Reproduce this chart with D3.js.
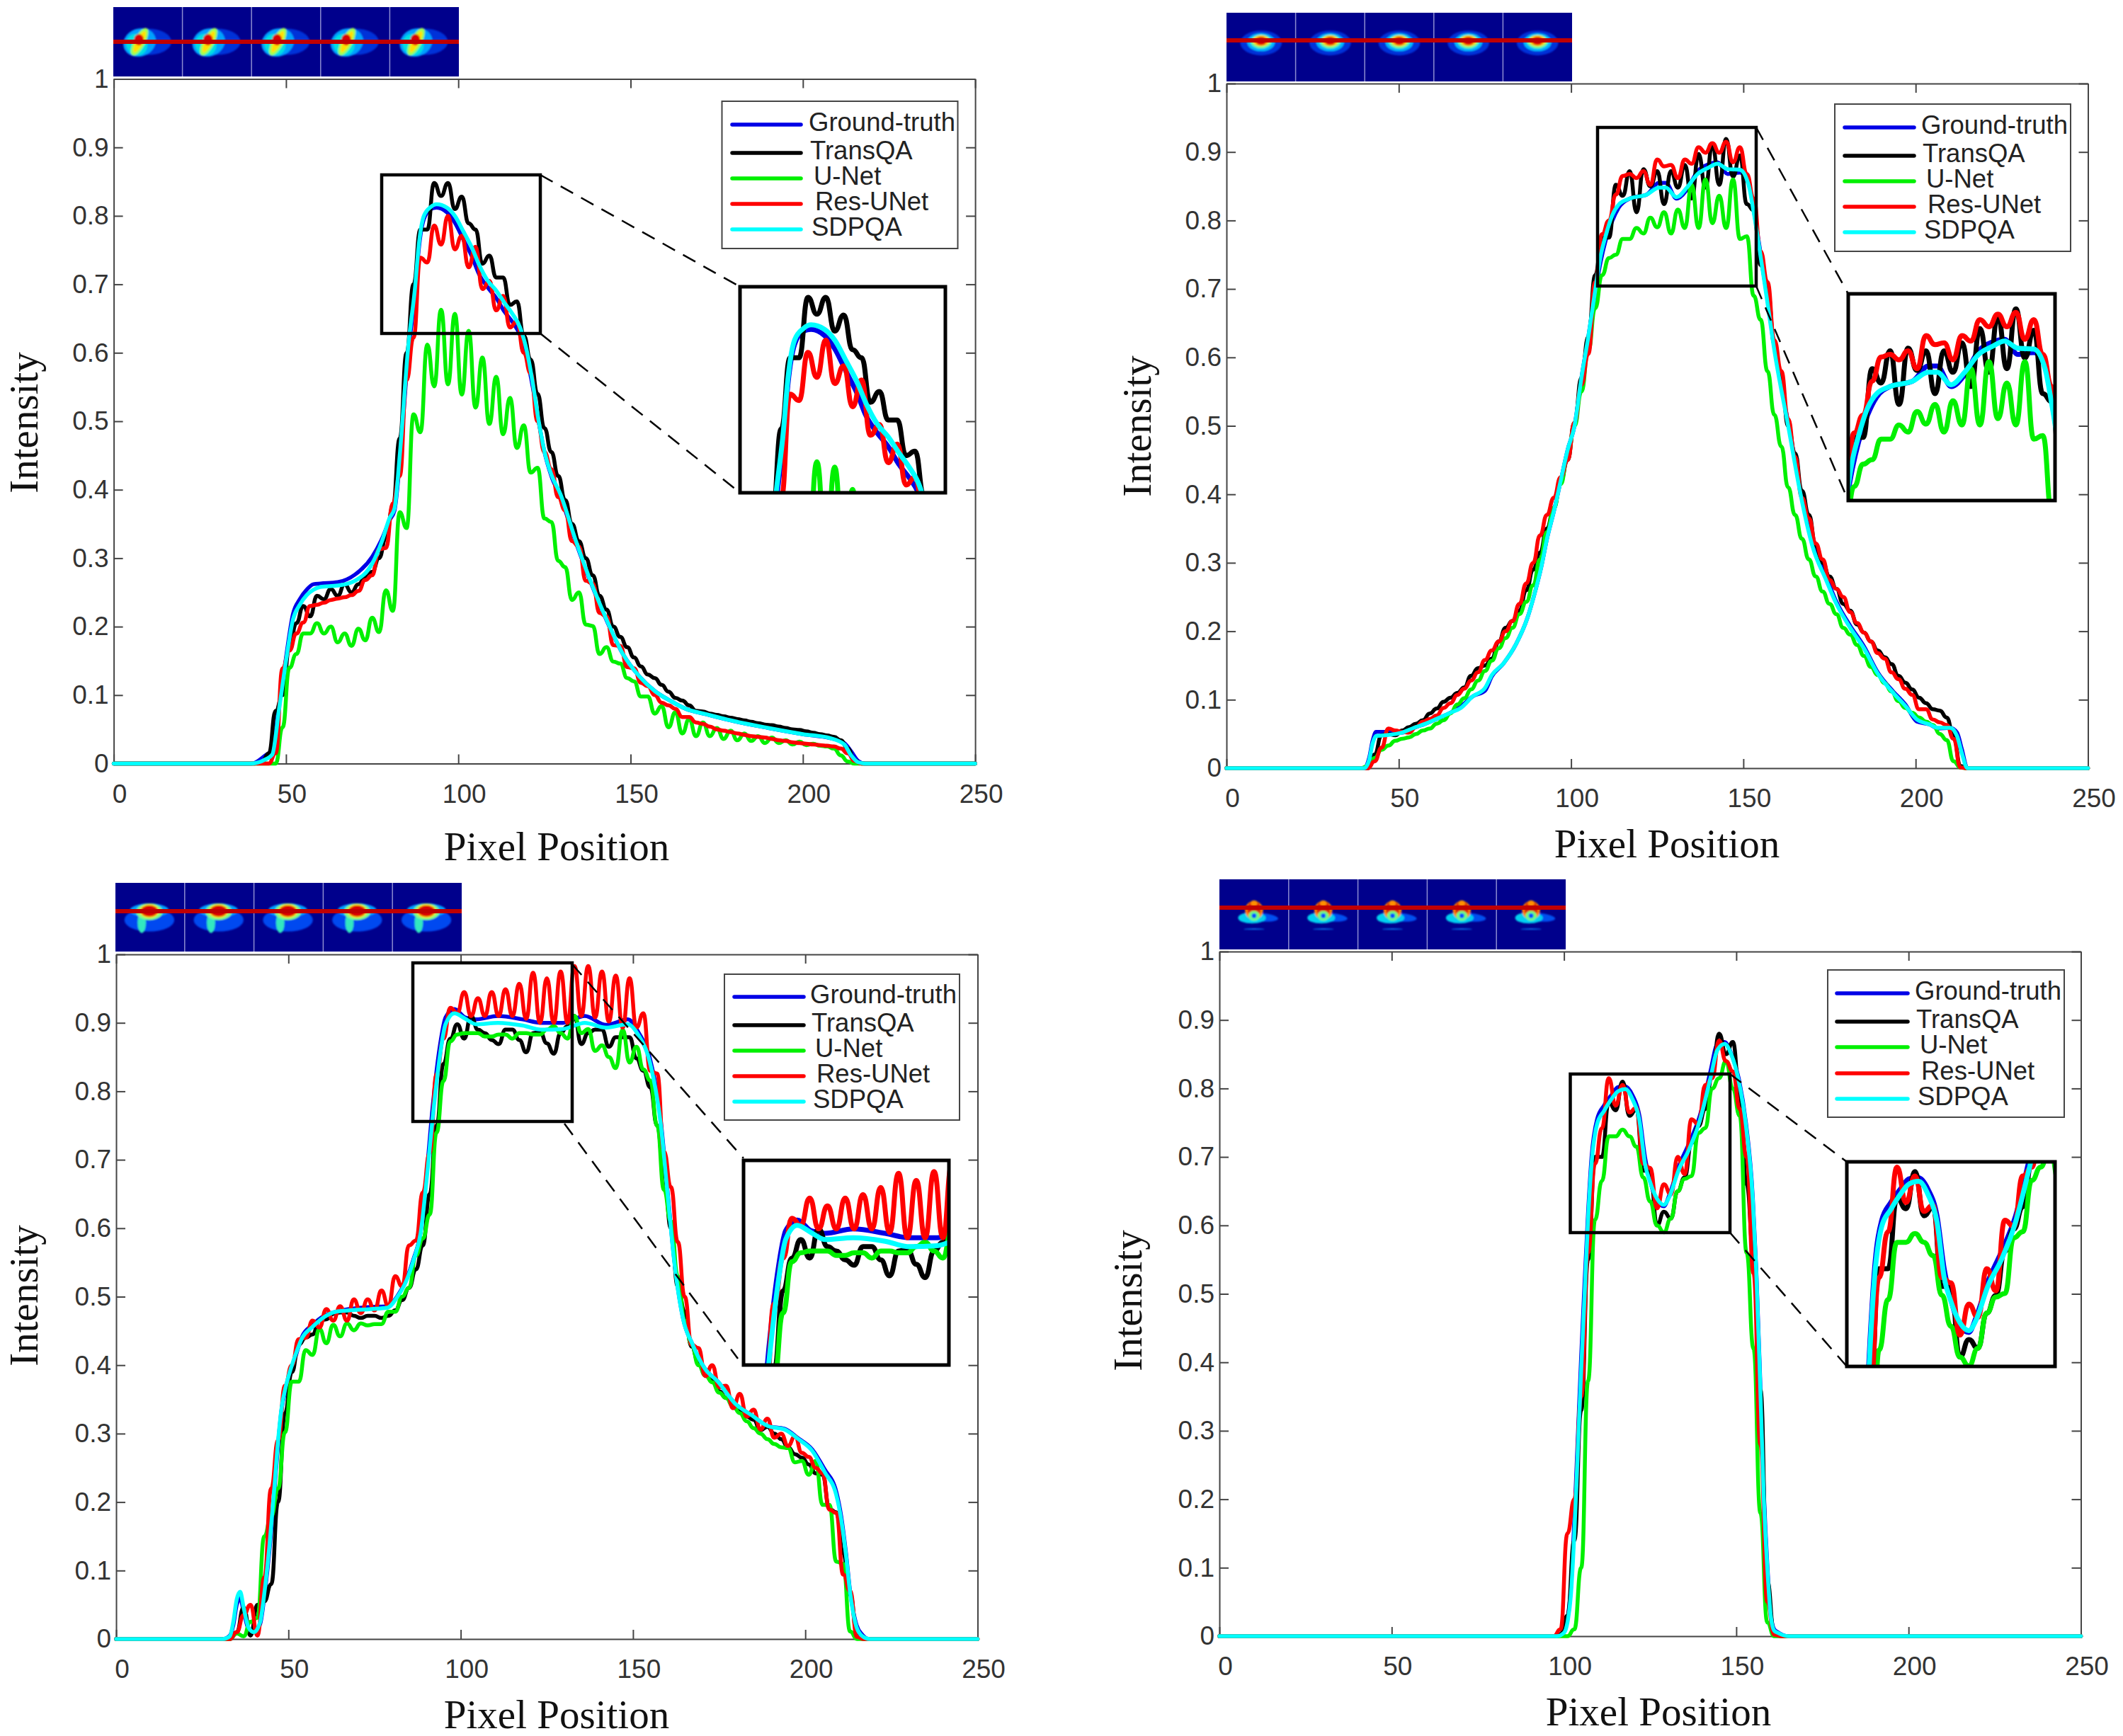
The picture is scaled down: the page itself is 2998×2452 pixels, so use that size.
<!DOCTYPE html>
<html><head><meta charset="utf-8">
<script src="https://cdn.jsdelivr.net/npm/d3@7/dist/d3.min.js"></script>
<style>html,body{margin:0;padding:0;background:#fff}svg{display:block}</style>
</head><body><svg id="c" width="2998" height="2452"></svg>
<script>
const seriesNames=["Ground-truth","TransQA","U-Net","Res-UNet","SDPQA"];
const seriesColors=["#0000e6","#000000","#00f000","#ff0000","#00ffff"];
const xTicks=[0,50,100,150,200,250];
const xTickLabels=["0","50","100","150","200","250"];
const yTicks=[0,.1,.2,.3,.4,.5,.6,.7,.8,.9,1];
const yTickLabels=["0","0.1","0.2","0.3","0.4","0.5","0.6","0.7","0.8","0.9","1"];

// ---------- Panel 1 ----------
const p1StepX=d3.range(41,220,2);
const p1TransQA=[0,.002,.015,.077,.1,.17,.205,.23,.215,.245,
.24,.255,.245,.262,.25,.262,.272,.28,.3,.33,
.375,.475,.6,.7,.78,.78,.848,.829,.848,.81,
.828,.789,.78,.73,.742,.71,.71,.67,.675,.625,
.59,.54,.49,.455,.42,.385,.35,.325,.3,.275,
.245,.225,.2,.185,.17,.155,.142,.13,.125,.115,
.105,.096,.092,.085,.077,.076,.073,.071,.069,.067,
.065,.063,.061,.059,.057,.056,.054,.052,.05,.049,
.047,.045,.043,.041,.039,.034,.022,.005,0,0];
const p1UNet=[0,0,0,0,.053,.14,.16,.19,.19,.205,
.19,.2,.177,.19,.172,.197,.18,.213,.192,.253,
.223,.367,.344,.51,.484,.612,.551,.663,.554,.657,
.539,.632,.52,.593,.496,.565,.481,.534,.461,.494,
.425,.432,.358,.353,.296,.287,.239,.25,.203,.201,
.16,.17,.149,.146,.125,.12,.098,.098,.073,.084,
.053,.075,.044,.065,.04,.06,.04,.052,.036,.048,
.034,.044,.033,.04,.03,.038,.03,.034,.028,.032,
.027,.029,.026,.025,.022,.012,.003,0,0,0];
const p1ResUNet=[0,0,0,.015,.139,.165,.19,.206,.23,.232,
.235,.239,.241,.243,.246,.252,.268,.275,.313,.315,
.38,.42,.56,.622,.739,.732,.786,.758,.8,.751,
.771,.725,.755,.693,.705,.662,.683,.637,.646,.6,
.57,.5,.455,.43,.389,.37,.325,.317,.267,.263,
.22,.215,.173,.172,.141,.139,.118,.113,.1,.089,
.085,.08,.068,.068,.06,.058,.054,.05,.048,.046,
.044,.042,.04,.039,.038,.036,.034,.033,.031,.03,
.029,.028,.027,.026,.025,.022,.015,.004,0,0];
const p1SmoothX=[40,44,46,48,50,52,54,56,58,60,65,70,75,78,80,81.5,83,85.5,87.5,88.5,
90,92,93.7,96.7,99,101.5,104,106,108.6,111,113.4,115.7,118,120,121.6,123.3,125,127,129.6,134,
138.8,143.4,148,152.6,157,161.8,166,172,180,190,200,208,212,214,216,218];
const p1Truth=[0,.012,.02,.085,.155,.218,.24,.254,.262,.263,.265,.276,.302,.33,.355,.37,.44,.6,.69,.75,
.795,.81,.812,.805,.79,.765,.74,.715,.695,.68,.66,.645,.625,.59,.55,.5,.455,.42,.39,.325,
.26,.205,.158,.127,.106,.091,.08,.072,.062,.052,.043,.037,.03,.018,.004,0];
const p1SDPQA=[0,.006,.013,.08,.15,.21,.232,.246,.254,.258,.26,.267,.292,.327,.358,.373,.45,.611,.698,.756,
.8,.813,.817,.812,.8,.777,.753,.729,.705,.691,.673,.657,.636,.6,.556,.501,.456,.422,.394,.327,
.261,.206,.158,.127,.106,.091,.08,.072,.062,.052,.043,.037,.028,.012,.002,0];

// ---------- Panel 2 ----------
const p2StepX=d3.range(39,216,2);
const p2TransQA=[0,0,.02,.048,.05,.048,.055,.06,.065,.07,
.08,.087,.097,.103,.11,.118,.135,.146,.15,.16,
.185,.205,.215,.23,.26,.29,.315,.35,.38,.42,
.45,.505,.57,.63,.72,.775,.775,.852,.836,.872,
.812,.875,.85,.872,.824,.872,.848,.881,.832,.897,
.848,.911,.852,.919,.864,.895,.824,.815,.735,.7,
.62,.57,.5,.46,.405,.37,.325,.3,.28,.262,
.24,.23,.21,.198,.185,.172,.162,.152,.135,.125,
.115,.103,.095,.086,.084,.074,.047,.003,0];
const p2UNet=[0,.003,.015,.027,.033,.04,.043,.045,.05,.055,
.058,.065,.07,.08,.093,.102,.115,.128,.142,.157,
.175,.19,.205,.225,.243,.267,.305,.345,.38,.415,
.455,.5,.55,.61,.672,.72,.745,.75,.773,.773,
.789,.781,.804,.79,.812,.781,.816,.789,.852,.789,
.86,.796,.836,.789,.86,.773,.777,.69,.655,.58,
.516,.47,.41,.37,.335,.305,.28,.258,.24,.225,
.205,.195,.18,.164,.148,.136,.124,.112,.098,.088,
.081,.074,.068,.063,.05,.041,.01,.001,0];
const p2ResUNet=[0,0,.01,.03,.058,.055,.053,.052,.06,.068,
.072,.077,.088,.095,.107,.116,.128,.14,.158,.172,
.185,.2,.215,.24,.27,.3,.34,.37,.395,.425,
.45,.505,.56,.605,.71,.78,.8,.838,.865,.868,
.862,.872,.852,.889,.879,.881,.862,.889,.883,.907,
.899,.913,.899,.915,.885,.907,.868,.832,.755,.71,
.625,.58,.51,.455,.395,.365,.328,.305,.275,.262,
.25,.228,.212,.198,.185,.168,.16,.14,.13,.116,
.107,.086,.086,.071,.067,.063,.043,.001,0];
const p2SmoothX=[39,40,41.4,42.4,43.4,46,51,54.4,57.8,61,65,68,71.5,75,77,80.4,84,87.3,89.3,91.4,
93,95,97,99,101,103,105,107,108.6,110,112,114,117,122,125.5,127.5,130.6,133.6,136.7,139.8,
142.5,145.4,149,151.5,153,154.6,156.7,159,163,167,170,174,177,181,185,189,193.5,197,200.4,204,
206.5,210,212,213.4,215];
const p2Truth=[0,0,.015,.04,.053,.053,.052,.059,.065,.072,.081,.09,.105,.113,.134,.153,.181,.219,.253,.295,
.335,.375,.42,.465,.5,.57,.63,.695,.74,.77,.8,.82,.832,.838,.855,.855,.832,.845,.872,.882,
.885,.868,.87,.855,.815,.765,.695,.615,.505,.395,.33,.28,.243,.208,.178,.14,.112,.093,.068,.064,
.058,.059,.052,.028,0];
const p2SDPQA=[0,0,.012,.036,.047,.048,.052,.059,.065,.072,.081,.088,.105,.117,.136,.153,.181,.219,.253,.295,
.335,.375,.42,.465,.5,.57,.63,.698,.749,.777,.808,.824,.832,.838,.848,.848,.834,.848,.868,.877,
.883,.875,.874,.852,.812,.761,.69,.61,.5,.39,.325,.275,.24,.205,.175,.138,.11,.091,.071,.064,
.059,.059,.047,.022,0];

// ---------- Panel 3 ----------
const p3StepX=d3.range(31,220,2);
const p3TransQA=[0,0,.01,.046,.005,.05,.055,.08,.2,.33,
.39,.43,.44,.445,.465,.467,.475,.477,.477,.472,
.469,.472,.472,.469,.472,.48,.495,.513,.54,.575,
.65,.75,.84,.877,.898,.877,.91,.89,.885,.875,
.869,.89,.89,.875,.857,.885,.887,.87,.855,.885,
.895,.91,.869,.885,.89,.89,.865,.879,.879,.879,
.848,.83,.806,.75,.68,.6,.515,.478,.427,.404,
.385,.378,.362,.352,.345,.335,.325,.32,.305,.31,
.3,.292,.28,.27,.265,.255,.242,.24,.19,.185,
.125,.065,.01,0,0];
const p3UNet=[0,0,.008,.004,.025,.031,.15,.179,.22,.302,
.376,.376,.422,.415,.453,.432,.459,.442,.461,.451,
.461,.458,.46,.46,.478,.478,.5,.513,.56,.585,
.62,.74,.815,.873,.883,.885,.885,.885,.88,.88,
.883,.883,.877,.885,.885,.883,.883,.89,.895,.885,
.877,.91,.885,.891,.859,.867,.85,.834,.89,.842,
.865,.832,.816,.75,.656,.61,.53,.465,.43,.4,
.385,.375,.36,.352,.34,.33,.318,.308,.3,.292,
.285,.28,.279,.258,.26,.24,.26,.196,.196,.113,
.11,.011,0,0,0];
const p3ResUNet=[0,0,.01,.035,.05,.005,.09,.22,.29,.37,
.4,.438,.44,.465,.455,.482,.465,.486,.465,.496,
.476,.496,.48,.509,.486,.53,.515,.575,.582,.652,
.71,.825,.877,.922,.914,.945,.91,.936,.91,.945,
.91,.949,.91,.957,.906,.973,.9,.965,.9,.975,
.9,.983,.91,.983,.908,.975,.902,.969,.893,.965,
.893,.914,.83,.826,.712,.66,.58,.5,.43,.425,
.384,.4,.368,.37,.337,.358,.325,.335,.306,.322,
.294,.3,.282,.296,.272,.266,.25,.242,.189,.184,
.094,.07,.003,0,0];
const p3SmoothX=[31,33,34,35,36,37,38.4,40,41.8,43.2,44.5,45.9,47,48,49.3,50.7,52.4,54,56.8,60.3,
63.7,67.8,74,78.8,81.5,84.2,86.3,88.4,90.3,91.9,94,95.6,98.2,101.3,104.5,110.8,118,123.4,129.7,136,
142.2,148.5,151.7,154.8,158,160,162,164.5,167.3,170.7,174.8,179.6,184.4,189.2,194,198,202,205.6,209,210.4,
211.8,213,214.9,216.6,218.6];
const p3Truth=[0,.005,.02,.05,.06,.04,.015,.01,.022,.07,.13,.215,.285,.335,.365,.39,.418,.442,.458,.472,
.478,.482,.485,.486,.5,.525,.555,.596,.69,.78,.868,.908,.92,.908,.905,.91,.905,.9,.9,.91,
.897,.905,.885,.85,.76,.655,.552,.469,.43,.396,.375,.344,.327,.311,.307,.293,.277,.248,.215,.18,
.126,.07,.02,.006,0];
const p3SDPQA=[0,.004,.025,.058,.069,.046,.017,.01,.025,.075,.137,.22,.29,.337,.37,.395,.42,.44,.455,.47,
.478,.48,.482,.484,.499,.523,.553,.594,.681,.763,.853,.898,.914,.906,.898,.9,.896,.89,.891,.9,
.893,.898,.881,.844,.754,.652,.55,.468,.43,.396,.375,.344,.327,.311,.306,.292,.275,.244,.21,.175,
.123,.068,.017,.004,0];

// ---------- Panel 4 ----------
const p4StepX=d3.range(95,166,2);
const p4TransQA=[0,0,.003,.03,.14,.33,.55,.7,.7,.78,
.768,.81,.76,.77,.68,.68,.6,.62,.61,.65,
.67,.72,.745,.77,.82,.88,.85,.868,.79,.66,
.56,.36,.08,.005,0,0];
const p4UNet=[0,0,0,0,.01,.1,.373,.608,.665,.73,
.73,.74,.73,.715,.67,.635,.6,.59,.61,.65,
.668,.672,.735,.742,.8,.815,.84,.8,.76,.56,
.42,.18,.02,0,0,0];
const p4ResUNet=[0,0,.01,.15,.2,.35,.56,.69,.742,.815,
.775,.805,.765,.772,.69,.684,.625,.66,.645,.7,
.675,.755,.748,.805,.815,.87,.84,.825,.77,.7,
.53,.28,.05,.002,0,0];
const p4SmoothX=[98,100,101,102,103,104,105,106,107,108,109.6,111.6,113.7,115.7,117.8,119.9,121.9,123.5,125,127,
129,130.6,133.2,136.3,139.4,142.5,144.5,146.6,148.6,150.7,152.8,154.8,155.8,156.9,158,159,160,161,162,165];
const p4Truth=[0,.007,.025,.07,.17,.29,.41,.52,.62,.7,.755,.775,.79,.802,.803,.79,.76,.7,.665,.635,
.628,.645,.685,.72,.76,.825,.865,.868,.85,.815,.75,.64,.535,.38,.21,.105,.033,.01,.006,0];
const p4SDPQA=[0,.005,.02,.06,.15,.27,.39,.5,.61,.69,.748,.767,.784,.796,.799,.784,.753,.69,.663,.639,
.63,.642,.68,.711,.753,.815,.856,.865,.849,.811,.746,.636,.532,.373,.2,.1,.03,.008,.005,0];

// Layout only (pixels on the page)
const panels=[
{x0:160.6,y0:1078.5,stepX:p1StepX,smoothX:p1SmoothX,truth:p1Truth,trans:p1TransQA,unet:p1UNet,res:p1ResUNet,sd:p1SDPQA,
 box:[539,247,763,471],inset:[1045,405,1335,696],conn:[[763,247,1045,405],[763,471,1045,696]],
 legend:[1019.5,143,1352.5,351],legLines:[176,216,252,288,324],legX:[1034,1131],legT:1142,
 xl:[786,1215],yl:[53,597],thumb:[160,10,488,98,59],blob:0},
{x0:1732,y0:1085,stepX:p2StepX,smoothX:p2SmoothX,truth:p2Truth,trans:p2TransQA,unet:p2UNet,res:p2ResUNet,sd:p2SDPQA,
 box:[2256,180,2480,404],inset:[2610,415,2902,707],conn:[[2480,180,2610,415],[2480,404,2610,707]],
 legend:[2591,147,2924,355],legLines:[180,220,256,292,328],legX:[2605,2703],legT:2713,
 xl:[2354,1211],yl:[1625,602],thumb:[1732,18,488,97,57],blob:1},
{x0:164,y0:2315,stepX:p3StepX,smoothX:p3SmoothX,truth:p3Truth,trans:p3TransQA,unet:p3UNet,res:p3ResUNet,sd:p3SDPQA,
 box:[583,1360,808,1584],inset:[1050,1639,1340,1928],conn:[[808,1362,1050,1636],[797,1587,1042,1919]],
 legend:[1023,1376,1355,1582],legLines:[1408,1448,1484,1520,1556],legX:[1037,1135],legT:1144,
 xl:[786,2441],yl:[53,1830],thumb:[163,1247,489,97,1287],blob:2},
{x0:1722,y0:2311,stepX:p4StepX,smoothX:p4SmoothX,truth:p4Truth,trans:p4TransQA,unet:p4UNet,res:p4ResUNet,sd:p4SDPQA,
 box:[2217.5,1517,2443,1741],inset:[2608,1641,2902,1930],conn:[[2443,1517,2608,1641],[2443,1741,2608,1930]],
 legend:[2581,1370,2915,1578],legLines:[1403,1443,1479,1516,1552],legX:[2594,2694],legT:2704,
 xl:[2342,2437],yl:[1612,1837],thumb:[1722,1242,489,99,1282],blob:3}
];
const PW=1216.5,PH=967;
const legOffsets=[0,2,7,9,4];
const gray="#454545";
const sans="'Liberation Sans',Arial,sans-serif",serif="'Liberation Serif','Times New Roman',serif";

// Thumbnails: decorative heat-map blobs (cx,cy,rx,ry,rotation,colour) in a 100×100 cell
const thumbBlobs=[
 [[50,50,34,19,0,"#0030d8"],[38,51,24,20,-20,"#00a0ff"],[34,54,15,16,-30,"#00e0e0"],[38,50,8,22,28,"#a0ff50"],[38,50,5,17,28,"#ffe000"],[37,47,7,8,0,"#d80000"]],
 [[50,44,30,18,0,"#0030d8"],[50,43,20,13,0,"#00b8ff"],[50,42,15,10,0,"#70ff90"],[50,41,12,8,0,"#ffc000"],[50,41,8,6,0,"#d80000"]],
 [[49,54,36,17,0,"#0048f0"],[49,40,28,10,0,"#00a0ff"],[38,58,6,15,0,"#30e8c0"],[49,42,19,12,0,"#80ff80"],[49,41,14,10,0,"#ffd000"],[49,41,12,8,0,"#d80000"]],
 [[60,54,25,6,5,"#0050f0"],[47,55,20,8,0,"#00d0f0"],[50,44,13,13,0,"#ff8000"],[50,42,10,11,0,"#d82000"],[50,52,8,7,0,"#70ff80"],[50,52,3.5,3.5,0,"#0050ff"],[50,34,5,4,0,"#ff9000"],[50,71,15,.8,0,"#1088ff"]]
];

const svg=d3.select("#c");
const defs=svg.append("defs");
defs.append("filter").attr("id","soft").append("feGaussianBlur").attr("stdDeviation",1.3);

function panelSeries(p){
  const pad=(xs,ys)=>[[0,0],...d3.zip(xs,ys),[250,0]];
  return [
    {pts:pad(p.smoothX,p.truth),smooth:true,i:0},
    {pts:pad(p.stepX,p.trans),smooth:false,i:1},
    {pts:pad(p.stepX,p.unet),smooth:false,i:2},
    {pts:pad(p.stepX,p.res),smooth:false,i:3},
    {pts:pad(p.smoothX,p.sd),smooth:true,i:4}
  ];
}
function drawLines(g,series,x,y,w){
  series.forEach(s=>{
    const line=d3.line().x(d=>x(d[0])).y(d=>y(d[1])).curve(s.smooth?d3.curveMonotoneX:d3.curveBumpX);
    g.append("path").attr("d",line(s.pts)).attr("fill","none").attr("stroke",seriesColors[s.i])
     .attr("stroke-width",w).attr("stroke-linejoin","round").attr("stroke-linecap","round");
  });
}
panels.forEach((p,idx)=>{
  const x=d3.scaleLinear().domain([0,250]).range([p.x0,p.x0+PW]);
  const y=d3.scaleLinear().domain([0,1]).range([p.y0,p.y0-PH]);
  const g=svg.append("g");

  // thumbnails
  const [tx,ty,tw,th,ry]=p.thumb, cell=tw/5;
  const tg=g.append("g");
  tg.append("rect").attr("x",tx).attr("y",ty).attr("width",tw).attr("height",th).attr("fill","#00008c");
  d3.range(5).forEach(k=>{
    const c=tg.append("g").attr("transform",`translate(${tx+k*cell},${ty}) scale(${cell/100},${th/100})`).attr("filter","url(#soft)");
    thumbBlobs[p.blob].forEach(b=>c.append("ellipse").attr("cx",b[0]).attr("cy",b[1]).attr("rx",b[2]).attr("ry",b[3])
      .attr("transform",`rotate(${b[4]} ${b[0]} ${b[1]})`).attr("fill",b[5]));
    if(k>0) tg.append("line").attr("x1",tx+k*cell).attr("x2",tx+k*cell).attr("y1",ty).attr("y2",ty+th).attr("stroke","#8c8cd0").attr("stroke-width",1.5);
  });
  tg.append("rect").attr("x",tx).attr("y",ry-3).attr("width",tw).attr("height",6).attr("fill","#c00000");

  // axes
  const styleAxis=a=>{a.selectAll("path,line").attr("stroke",gray).attr("stroke-width",2);
    a.selectAll("text").attr("fill","#333").style("font-family",sans).style("font-size","37px");};
  const bottom=g.append("g").attr("transform",`translate(0,${p.y0})`).call(d3.axisBottom(x).tickValues(xTicks).tickFormat((d,i)=>xTickLabels[i]).tickSizeInner(-13).tickSizeOuter(0).tickPadding(29));
  styleAxis(bottom); bottom.selectAll("text").attr("dx",8);
  const top=g.append("g").attr("transform",`translate(0,${p.y0-PH})`).call(d3.axisTop(x).tickValues(xTicks).tickFormat("").tickSizeInner(-13).tickSizeOuter(0));
  styleAxis(top); top.selectAll("text").remove();
  styleAxis(g.append("g").attr("transform",`translate(${p.x0},0)`).call(d3.axisLeft(y).tickValues(yTicks).tickFormat((d,i)=>yTickLabels[i]).tickSizeInner(-13).tickSizeOuter(0).tickPadding(7)));
  const right=g.append("g").attr("transform",`translate(${p.x0+PW},0)`).call(d3.axisRight(y).tickValues(yTicks).tickFormat("").tickSizeInner(-13).tickSizeOuter(0));
  styleAxis(right); right.selectAll("text").remove();

  const series=panelSeries(p);
  drawLines(g.append("g"),series,x,y,5.5);

  // zoom box + connectors
  const [bx0,by0,bx1,by1]=p.box,[ix0,iy0,ix1,iy1]=p.inset;
  g.append("rect").attr("x",bx0).attr("y",by0).attr("width",bx1-bx0).attr("height",by1-by0).attr("fill","none").attr("stroke","#000").attr("stroke-width",4.5);
  p.conn.forEach(c=>g.append("line").attr("x1",c[0]).attr("y1",c[1]).attr("x2",c[2]).attr("y2",c[3])
     .attr("stroke","#000").attr("stroke-width",2.5).attr("stroke-dasharray","20,13"));

  // inset
  const ix=d3.scaleLinear().domain([x.invert(bx0),x.invert(bx1)]).range([ix0,ix1]);
  const iy=d3.scaleLinear().domain([y.invert(by1),y.invert(by0)]).range([iy1,iy0]);
  const cid="clip"+idx;
  defs.append("clipPath").attr("id",cid).append("rect").attr("x",ix0).attr("y",iy0).attr("width",ix1-ix0).attr("height",iy1-iy0);
  g.append("rect").attr("x",ix0).attr("y",iy0).attr("width",ix1-ix0).attr("height",iy1-iy0).attr("fill","#fff");
  drawLines(g.append("g").attr("clip-path",`url(#${cid})`),series,ix,iy,7);
  g.append("rect").attr("x",ix0).attr("y",iy0).attr("width",ix1-ix0).attr("height",iy1-iy0).attr("fill","none").attr("stroke","#000").attr("stroke-width",5);

  // legend
  const [lx0,ly0,lx1,ly1]=p.legend;
  g.append("rect").attr("x",lx0).attr("y",ly0).attr("width",lx1-lx0).attr("height",ly1-ly0).attr("fill","#fff").attr("stroke",gray).attr("stroke-width",2);
  seriesNames.forEach((n,i)=>{
    g.append("line").attr("x1",p.legX[0]).attr("x2",p.legX[1]).attr("y1",p.legLines[i]).attr("y2",p.legLines[i])
     .attr("stroke",seriesColors[i]).attr("stroke-width",5.5).attr("stroke-linecap","round");
    g.append("text").attr("x",p.legT+legOffsets[i]).attr("y",p.legLines[i]+9).text(n)
     .attr("fill","#222").style("font-family",sans).style("font-size","36.5px");
  });

  // axis titles
  g.append("text").attr("x",p.xl[0]).attr("y",p.xl[1]).attr("text-anchor","middle").text("Pixel Position")
   .attr("fill","#111").style("font-family",serif).style("font-size","57px");
  g.append("text").attr("transform",`translate(${p.yl[0]},${p.yl[1]}) rotate(-90)`).attr("text-anchor","middle").text("Intensity")
   .attr("fill","#111").style("font-family",serif).style("font-size","57px");
});
</script></body></html>
